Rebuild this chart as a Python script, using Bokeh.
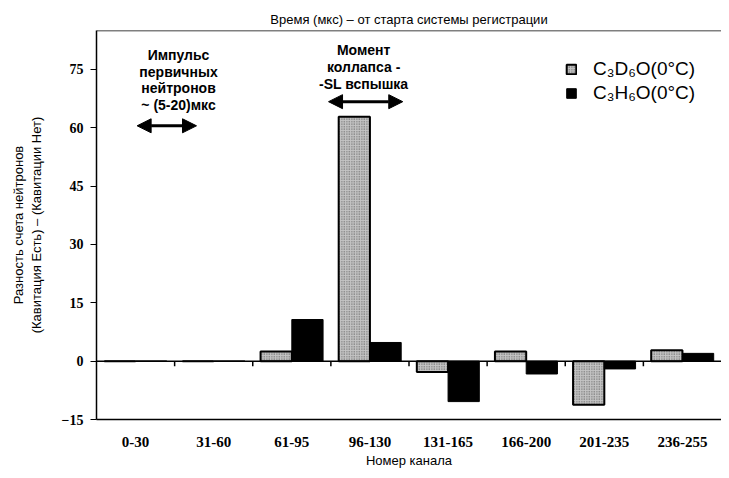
from bokeh.plotting import figure
from bokeh.models import (Range1d, FixedTicker, Span, Label, Arrow, NormalHead,
                          Legend, LegendItem, ColumnDataSource)
from bokeh.embed import file_html
from bokeh.resources import INLINE

categories = ["0-30", "31-60", "61-95", "96-130", "131-165", "166-200", "201-235", "236-255"]
c3d6o = [0.0, 0.0, 2.5, 62.8, -2.8, 2.5, -11.2, 2.8]
c3h6o = [0.0, 0.0, 10.7, 4.8, -10.4, -3.3, -2.0, 2.0]
y_ticks = [-15, 0, 15, 30, 45, 60, 75]

n = len(categories)
centers = [i + 0.5 for i in range(n)]

p = figure(width=721, height=470, output_backend="svg", toolbar_location=None,
           x_range=Range1d(0, n), y_range=Range1d(-15, 85),
           min_border_left=96, min_border_right=0, min_border_top=30, min_border_bottom=48)
p.outline_line_color = None
p.grid.visible = False
p.background_fill_color = "white"
p.border_fill_color = "white"

p.title.text = "Время (мкс) – от старта системы регистрации"
p.title.align = "center"
p.title.text_font = "Liberation Sans"
p.title.text_font_size = "13px"
p.title.text_font_style = "normal"
p.title.text_color = "black"
p.title.standoff = 7

src = ColumnDataSource(dict(x1=[c - 0.2 for c in centers], x2=[c + 0.2 for c in centers],
                            d=c3d6o, h=c3h6o))
r1 = p.vbar(x="x1", top="d", bottom=0, width=0.4, source=src,
            fill_color="#c4c4c4", line_color="black", line_width=2,
            hatch_pattern="dot", hatch_scale=2.5, hatch_color="#555555", hatch_weight=1)
r2 = p.vbar(x="x2", top="h", bottom=0, width=0.4, source=src,
            fill_color="black", line_color="black", line_width=1)

# zero line, top frame line and boundary ticks
p.add_layout(Span(location=0, dimension="width", line_color="black", line_width=1.5))
p.add_layout(Span(location=85, dimension="width", line_color="black", line_width=1.5))
bounds = list(range(1, n))
p.segment(x0=bounds, x1=bounds, y0=[0] * len(bounds), y1=[-1.3] * len(bounds),
          line_color="black", line_width=1.5)

# axes
p.xaxis.ticker = FixedTicker(ticks=centers)
p.xaxis.major_label_overrides = {c: lab for c, lab in zip(centers, categories)}
p.xaxis.major_tick_line_color = None
p.xaxis.minor_tick_line_color = None
p.xaxis.axis_line_color = "black"
p.xaxis.axis_line_width = 1.5
p.xaxis.major_label_text_font = "Liberation Serif"
p.xaxis.major_label_text_font_style = "bold"
p.xaxis.major_label_text_font_size = "15px"
p.xaxis.major_label_text_color = "black"
p.xaxis.major_label_standoff = 11
p.xaxis.axis_label = "Номер канала"
p.xaxis.axis_label_text_font = "Liberation Sans"
p.xaxis.axis_label_text_font_style = "normal"
p.xaxis.axis_label_text_font_size = "13px"
p.xaxis.axis_label_text_color = "black"
p.xaxis.axis_label_standoff = 3

p.yaxis.ticker = FixedTicker(ticks=y_ticks)
p.yaxis.major_tick_in = 0
p.yaxis.major_tick_out = 6
p.yaxis.minor_tick_line_color = None
p.yaxis.axis_line_color = "black"
p.yaxis.axis_line_width = 1.5
p.yaxis.major_tick_line_color = "black"
p.yaxis.major_label_text_font = "Liberation Serif"
p.yaxis.major_label_text_font_style = "bold"
p.yaxis.major_label_text_font_size = "14px"
p.yaxis.major_label_text_color = "black"
p.yaxis.major_label_standoff = 7
p.yaxis.axis_label = "Разность счета нейтронов\n(Кавитация Есть) – (Кавитации Нет)"
p.yaxis.axis_label_text_font = "Liberation Sans"
p.yaxis.axis_label_text_font_style = "normal"
p.yaxis.axis_label_text_font_size = "13px"
p.yaxis.axis_label_text_color = "black"
p.yaxis.axis_label_standoff = 15

# annotations
p.add_layout(Label(x=1.05, y=80.8, text="Импульс\nпервичных\nнейтронов\n~ (5-20)мкс",
                   text_align="center", text_baseline="top", text_font="Liberation Sans",
                   text_font_style="bold", text_font_size="14px", text_line_height=1.05,
                   text_color="black"))
p.add_layout(Label(x=3.42, y=82.0, text="Момент\nколлапса -\n-SL вспышка",
                   text_align="center", text_baseline="top", text_font="Liberation Sans",
                   text_font_style="bold", text_font_size="14px", text_line_height=1.05,
                   text_color="black"))
for x0, x1, yy in [(0.52, 1.28, 60.5), (2.97, 3.92, 66.7)]:
    p.add_layout(Arrow(x_start=x0, x_end=x1, y_start=yy, y_end=yy, line_width=3,
                       line_color="black",
                       start=NormalHead(size=14, fill_color="black", line_color="black"),
                       end=NormalHead(size=14, fill_color="black", line_color="black")))

legend = Legend(items=[LegendItem(label="C₃D₆O(0°C)", renderers=[r1]),
                       LegendItem(label="C₃H₆O(0°C)", renderers=[r2])],
                location=(469, 315), border_line_color=None, background_fill_alpha=0,
                padding=0, margin=0, spacing=2, glyph_width=12, glyph_height=12,
                label_height=22, label_standoff=16, label_text_font="Liberation Sans",
                label_text_font_size="19px", label_text_color="black")
p.add_layout(legend)

open("out.html", "w").write(file_html(p, INLINE))
